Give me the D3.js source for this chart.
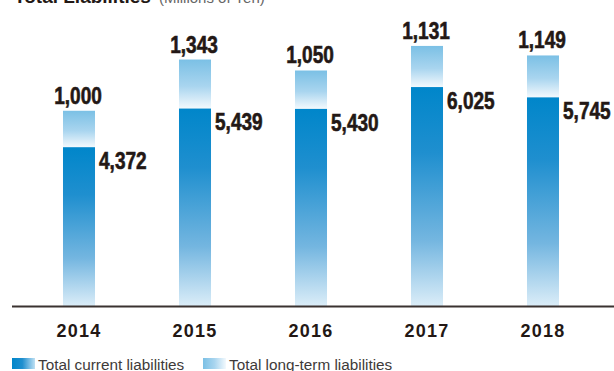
<!DOCTYPE html>
<html>
<head>
<meta charset="utf-8">
<script src="https://cdn.jsdelivr.net/npm/d3@7"></script>
<style>
  html, body { margin: 0; padding: 0; background: #fff; }
  svg { display: block; }
</style>
</head>
<body>
<svg id="chart" width="614" height="371"></svg>
<script>
// Fiscal years and liabilities (millions of yen)
const years = ["2014", "2015", "2016", "2017", "2018"];
const currentLiabilities = [4372, 5439, 5430, 6025, 5745];
const longTermLiabilities = [1000, 1343, 1050, 1131, 1149];
const legendLabels = ["Total current liabilities", "Total long-term liabilities"];

const svg = d3.select("#chart");
const ink = "#231815";
const sans = "'Liberation Sans', Arial, sans-serif";
const squeeze = 0.81; // horizontal condensing of value labels
const valueSize = 23.5;

const baseY = 306;
const x = d3.scaleBand().domain(years).range([21, 601]).paddingInner(0.724).paddingOuter(0.362);
const y = d3.scaleLinear().domain([0, 7000]).range([baseY, baseY - 254.4]);

// Gradients
const defs = svg.append("defs");
function grad(id, stops, horizontal) {
  const g = defs.append("linearGradient").attr("id", id)
    .attr("x1", 0).attr("y1", 0)
    .attr("x2", horizontal ? 1 : 0).attr("y2", horizontal ? 0 : 1);
  stops.forEach(([o, c]) => g.append("stop").attr("offset", o).attr("stop-color", c));
}
grad("gCur", [[0, "#0086ca"], [0.3, "#1f8fcf"], [0.7, "#74b6e0"], [1, "#dbedf8"]]);
grad("gLong", [[0, "#7bc0e5"], [0.55, "#a9d5ef"], [1, "#f3f9fd"]]);
grad("gCurH", [[0, "#0086ca"], [0.45, "#1f8fcf"], [1, "#bfe0f3"]], true);
grad("gLongH", [[0, "#7bc0e5"], [0.5, "#a9d5ef"], [1, "#f3f9fd"]], true);

// Title (partly above the visible area)
const title = svg.append("text").attr("x", 14).attr("y", 3)
  .attr("font-family", sans).attr("fill", ink);
title.append("tspan").attr("font-size", 19).attr("font-weight", "bold").text("Total Liabilities");
title.append("tspan").attr("font-size", 15).attr("fill", "#666").attr("dx", 8).text("(Millions of Yen)");

const rows = years.map((yr, i) => ({ yr, cur: currentLiabilities[i], lt: longTermLiabilities[i] }));

const g = svg.append("g");
// Current liabilities
g.selectAll("rect.cur").data(rows).join("rect").attr("class", "cur")
  .attr("x", d => x(d.yr)).attr("width", x.bandwidth())
  .attr("y", d => y(d.cur)).attr("height", d => baseY - y(d.cur))
  .attr("fill", "url(#gCur)");
// Long-term liabilities stacked on top
g.selectAll("rect.lt").data(rows).join("rect").attr("class", "lt")
  .attr("x", d => x(d.yr)).attr("width", x.bandwidth())
  .attr("y", d => y(d.cur + d.lt)).attr("height", d => y(d.cur) - y(d.cur + d.lt))
  .attr("fill", "url(#gLong)");

const fmt = d3.format(",");
function styleValue(sel) {
  sel.attr("font-family", sans).attr("font-weight", "bold").attr("font-size", valueSize)
    .attr("fill", ink).attr("stroke", ink).attr("stroke-width", 0.6);
}
// Long-term value labels above bars
g.selectAll("text.lt").data(rows).join("text").attr("class", "lt")
  .attr("transform", d => `translate(${x(d.yr) + x.bandwidth() / 2 - 1},${y(d.cur + d.lt) - 7}) scale(${squeeze},1)`)
  .attr("text-anchor", "middle")
  .call(styleValue).text(d => fmt(d.lt));
// Current value labels beside bars
g.selectAll("text.cur").data(rows).join("text").attr("class", "cur")
  .attr("transform", d => `translate(${x(d.yr) + x.bandwidth() + 4},${y(d.cur) + 22}) scale(${squeeze},1)`)
  .call(styleValue).text(d => fmt(d.cur));

// Baseline axis
const axis = svg.append("g").attr("transform", `translate(0,${baseY})`)
  .call(d3.axisBottom(x).tickSize(0).tickPadding(0));
axis.select(".domain").attr("d", "M12,0.5H614").attr("stroke", "#3a3230").attr("stroke-width", 2);
axis.selectAll(".tick text").attr("y", 31).attr("dy", 0)
  .attr("font-family", sans).attr("font-weight", "bold")
  .attr("font-size", 18).attr("letter-spacing", 1.2).attr("fill", ink);

// Legend
const legend = svg.append("g").attr("transform", "translate(0,358)");
const legendItems = [
  { label: legendLabels[0], fill: "url(#gCurH)", x: 12 },
  { label: legendLabels[1], fill: "url(#gLongH)", x: 203 }
];
legendItems.forEach(it => {
  legend.append("rect").attr("x", it.x).attr("y", 0).attr("width", 23).attr("height", 11).attr("fill", it.fill);
  legend.append("text").attr("x", it.x + 26).attr("y", 11.5)
    .attr("font-family", sans).attr("font-size", 15.3)
    .attr("fill", "#3e3a39").text(it.label);
});
</script>
</body>
</html>
